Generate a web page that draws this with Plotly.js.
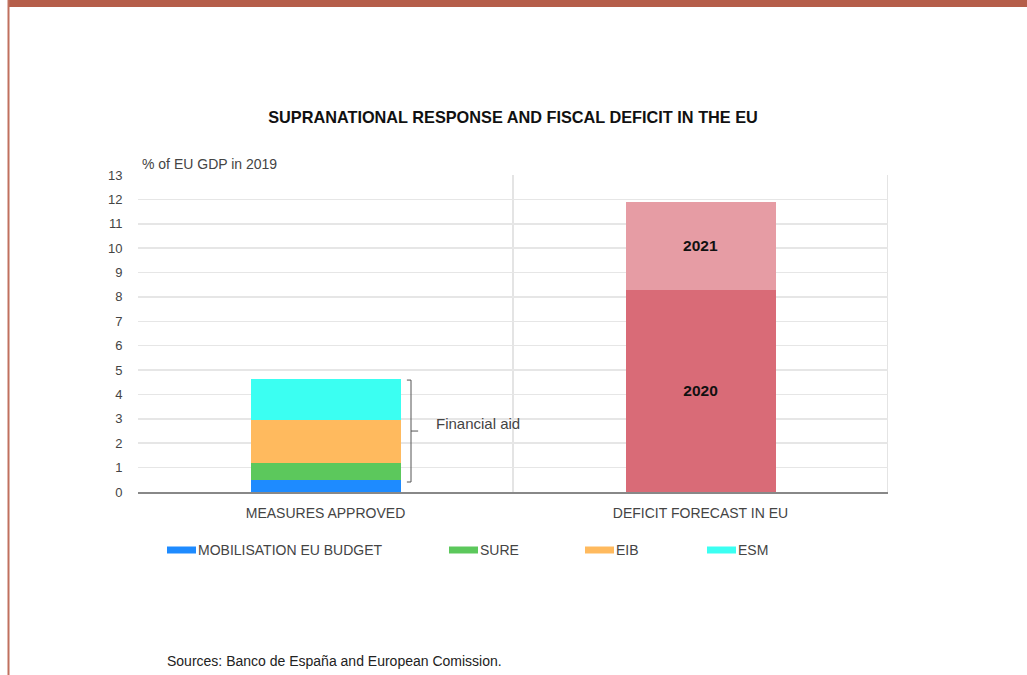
<!DOCTYPE html>
<html>
<head>
<meta charset="utf-8">
<script src="https://cdn.plot.ly/plotly-3.0.1.min.js"></script>
<style>
html,body{margin:0;padding:0;background:#fff;}
#chart{width:1027px;height:675px;}
</style>
</head>
<body>
<div id="chart"></div>
<script>
// ---- data ----
const categories = ["MEASURES APPROVED", "DEFICIT FORECAST IN EU"];
const measureNames = ["MOBILISATION EU BUDGET", "SURE", "EIB", "ESM"];
const measureValues = [0.5, 0.7, 1.75, 1.7];
const deficitNames = ["2020", "2021"];
const deficitValues = [8.3, 3.6];
const yTicks = [0,1,2,3,4,5,6,7,8,9,10,11,12,13];

const measureColors = ["#1E8BFF", "#5CC85C", "#FFBA5E", "#3BFFF2"];
const deficitColors = ["#D96B77", "#E69CA4"];
const FONT = "Liberation Sans, Arial, Helvetica, sans-serif";

const traces = [];
measureNames.forEach((n, i) => {
  traces.push({
    type: "bar", name: n, x: [categories[0]], y: [measureValues[i]],
    marker: {color: measureColors[i], line: {width: 0}}, width: 0.4,
    showlegend: false, hoverinfo: "skip"
  });
});
deficitNames.forEach((n, i) => {
  traces.push({
    type: "bar", name: n, x: [categories[1]], y: [deficitValues[i]],
    marker: {color: deficitColors[i], line: {width: 0}}, width: 0.4,
    text: [n], textposition: "inside", insidetextanchor: "middle",
    textfont: {family: FONT, size: 15.5, color: "#111", weight: "bold"},
    showlegend: false, hoverinfo: "skip"
  });
});

// layout geometry (pixels)
const W = 1027, H = 675, L = 138, R = 888, T = 175, B = 492;
const px = x => (x - L) / (R - L);
const py = y => (B - y) / (B - T);

const shapes = [
  // category separators
  {type: "line", xref: "x", yref: "paper", x0: 0.5, x1: 0.5, y0: 0, y1: 1, line: {color: "#e4e4e4", width: 2}, layer: "below"},
  {type: "line", xref: "x", yref: "paper", x0: 1.5, x1: 1.5, y0: 0, y1: 1, line: {color: "#e4e4e4", width: 2}, layer: "below"},
  // bracket for financial aid
  {type: "path", xref: "x", yref: "y",
   path: "M 0.217 4.59 L 0.228 4.59 L 0.228 0.41 L 0.217 0.41",
   line: {color: "#555", width: 1}},
  {type: "line", xref: "x", yref: "y", x0: 0.228, x1: 0.247, y0: 2.5, y1: 2.5, line: {color: "#555", width: 1}},
  // frame
  {type: "rect", xref: "paper", yref: "paper", x0: px(8), x1: px(1027), y0: py(0), y1: py(7), fillcolor: "#B55E4A", line: {width: 0}},
  {type: "rect", xref: "paper", yref: "paper", x0: px(7.5), x1: px(9.5), y0: py(675), y1: py(0), fillcolor: "#C0705E", line: {width: 0}}
];

const annotations = [
  {xref: "paper", yref: "paper", x: px(140), y: py(164), xanchor: "left", yanchor: "middle",
   text: "% of EU GDP in 2019", showarrow: false, font: {family: FONT, size: 14, color: "#444"}},
  {xref: "x", yref: "y", x: 0.29, y: 2.8, xanchor: "left", yanchor: "middle",
   text: "Financial aid", showarrow: false, font: {family: FONT, size: 15, color: "#444"}},
  {xref: "paper", yref: "paper", x: px(165), y: py(661), xanchor: "left", yanchor: "middle",
   text: "Sources: Banco de España and European Comission.", showarrow: false, font: {family: FONT, size: 14, color: "#222"}}
];

// custom legend
const legendX = [167, 449, 585, 707];
const legendY = 550;
measureNames.forEach((n, i) => {
  shapes.push({type: "rect", xref: "paper", yref: "paper",
    x0: px(legendX[i]), x1: px(legendX[i] + 29), y0: py(legendY + 3.5), y1: py(legendY - 3.5),
    fillcolor: measureColors[i], line: {width: 0}});
  annotations.push({xref: "paper", yref: "paper", x: px(legendX[i] + 29), y: py(legendY),
    xanchor: "left", yanchor: "middle", text: n, showarrow: false,
    font: {family: FONT, size: 14, color: "#444"}});
});

const layout = {
  width: W, height: H,
  margin: {l: L, r: W - R, t: T, b: H - B, pad: 0},
  paper_bgcolor: "#fff", plot_bgcolor: "#fff",
  barmode: "stack",
  showlegend: false,
  hovermode: false,
  title: {text: "<b>SUPRANATIONAL RESPONSE AND FISCAL DEFICIT IN THE EU</b>",
    xref: "paper", x: 0.5, xanchor: "center", yref: "container", y: 1 - 117 / H, yanchor: "middle",
    font: {family: FONT, size: 16.3, color: "#111"}},
  xaxis: {type: "category", categoryorder: "array", categoryarray: categories,
    range: [-0.5, 1.5], showgrid: false, zeroline: false,
    showline: true, linecolor: "#888", linewidth: 2,
    ticks: "outside", ticklen: 7, tickcolor: "rgba(0,0,0,0)",
    tickfont: {family: FONT, size: 14, color: "#444"}},
  yaxis: {range: [0, 13], tickvals: yTicks, ticktext: yTicks.map(String),
    showgrid: true, gridcolor: "#e6e6e6", gridwidth: 1.5, zeroline: false,
    showline: false, ticks: "outside", ticklen: 12, tickcolor: "rgba(0,0,0,0)",
    tickfont: {family: FONT, size: 13, color: "#444"}},
  shapes: shapes,
  annotations: annotations,
  font: {family: FONT}
};

Plotly.newPlot("chart", traces, layout, {staticPlot: true, displayModeBar: false});
</script>
</body>
</html>
